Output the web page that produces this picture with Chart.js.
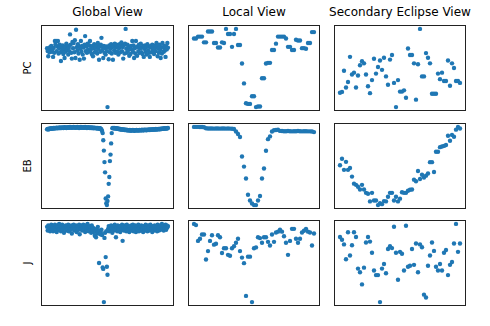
<!DOCTYPE html>
<html>
<head>
<meta charset="utf-8">
<script src="https://cdn.jsdelivr.net/npm/chart.js@4.4.1/dist/chart.umd.min.js"></script>
<style>
  body { margin: 0; background: #fff; width: 490px; height: 326px; position: relative; overflow: hidden; font-family: "DejaVu Sans", sans-serif; }
  canvas { position: absolute; }
  .title { position: absolute; font-size: 12px; line-height: 14px; text-align: center; white-space: nowrap; color: #000; }
  .ylab { position: absolute; font-size: 10px; line-height: 12px; text-align: center; white-space: nowrap; color: #000; transform: rotate(-90deg); }
</style>
</head>
<body>
<script>
// column and row names
const views = ['Global View', 'Local View', 'Secondary Eclipse View'];
const classes = ['PC', 'EB', 'J'];

// normalised flux per bin (median 0, deepest point -1 for global/local)
const globalPC = [
  0.02, -0.03, -0.12, 0.01, -0.05, 0.04, -0.02, 0.06, -0.04, 0.00,
  -0.13, 0.03, -0.06, 0.145, 0.09, 0.145, -0.03, 0.05, 0.145, -0.07,
  0.02, 0.08, -0.05, -0.20, 0.04, -0.02, 0.07, -0.08, 0.01, -0.15,
  0.05, -0.04, 0.10, -0.01, 0.06, -0.09, 0.03, -0.03, 0.26, 0.08,
  -0.06, -0.16, 0.13, 0.02, 0.11, -0.05, 0.16, -0.15, 0.34, 0.04,
  -0.02, 0.09, -0.07, 0.05, -0.18, 0.01, 0.145, -0.04, 0.06, -0.09,
  0.03, -0.16, 0.08, 0.23, -0.03, 0.05, -0.06, 0.10, 0.00, -0.04,
  0.07, 0.145, -0.02, 0.04, -0.08, 0.06, -0.12, 0.02, 0.09, -0.05,
  0.03, -0.03, 0.07, -0.07, 0.11, 0.01, -0.18, 0.05, -0.04, 0.08,
  0.20, -0.02, 0.04, -0.15, 0.06, -0.06, 0.02, -0.09, 0.05, -0.03,
  -1.00, 0.03, -0.17, 0.07, -0.05, 0.01, 0.09, -0.07, 0.04, -0.18,
  0.06, -0.02, 0.10, -0.06, 0.03, 0.08, -0.04, 0.05, -0.09, 0.02,
  0.09, -0.05, 0.06, 0.12, -0.03, 0.04, -0.16, 0.07, -0.07, 0.10,
  0.355, 0.01, -0.06, 0.08, -0.02, 0.05, -0.11, 0.03, -0.08, 0.06,
  0.00, 0.145, -0.04, 0.07, -0.15, 0.02, -0.07, 0.145, 0.04, -0.11,
  0.05, -0.03, 0.08, -0.06, 0.02, 0.10, -0.05, 0.03, -0.08, 0.06,
  -0.13, 0.01, 0.07, -0.04, 0.04, -0.09, 0.09, -0.02, 0.05, -0.06,
  -0.13, 0.03, 0.06, -0.05, 0.08, -0.02, 0.04, -0.08, 0.02, 0.07,
  -0.03, 0.11, 0.05, -0.12, 0.02, -0.06, 0.08, -0.01, -0.15, 0.04,
  -0.07, 0.11, 0.03, -0.04, 0.06, -0.02, -0.13, 0.05, 0.00, 0.11,
  0.03
];
const localPC = [
  0.07, 0.07, 0.10, 0.10, 0.10, 0.01, 0.01, 0.18, 0.18, 0.18,
  0.00, 0.00, -0.07, -0.07, 0.01, 0.00, 0.22, 0.14, 0.14, -0.06,
  0.14, 0.22, -0.03, -0.03, -0.32, -0.63, -0.94, -0.95, -0.95, -0.83,
  -0.83, -1.00, -0.99, -0.99, -0.55, -0.55, -0.32, -0.31, -0.31, -0.11,
  -0.11, -0.01, 0.10, 0.10, 0.10, 0.10, 0.07, -0.06, -0.06, -0.11,
  -0.11, 0.05, 0.04, 0.04, -0.08, -0.08, -0.09, 0.00, 0.00, 0.17,
  0.17
];
const secondaryPC = [
  -0.240, -0.228, 0.044, -0.172, -0.100, 0.224, -0.004, 0.020, -0.172, -0.016,
  0.116, 0.168, 0.140, -0.004, -0.156, -0.244, -0.076, 0.200, 0.008, 0.092,
  0.176, 0.056, 0.212, -0.028, -0.136, 0.188, 0.248, -0.112, -0.424, -0.076,
  -0.224, -0.224, -0.208, -0.304, 0.332, 0.248, 0.248, 0.140, -0.328, 0.128,
  0.584, -0.028, -0.028, 0.272, 0.212, 0.140, -0.252, -0.252, -0.252, 0.008,
  -0.064, 0.020, -0.088, -0.088, 0.176, -0.148, 0.140, 0.080, -0.088, -0.088,
  -0.112
];

const globalEB = [
  -0.008, -0.002, -0.010, 0.000, -0.004, 0.004, -0.002, 0.006, 0.000, 0.008,
  0.002, 0.010, 0.004, 0.012, 0.006, 0.010, 0.014, 0.006, 0.012, 0.008,
  0.016, 0.010, 0.014, 0.008, 0.018, 0.012, 0.016, 0.010, 0.014, 0.020,
  0.012, 0.016, 0.010, 0.018, 0.014, 0.020, 0.012, 0.016, 0.022, 0.014,
  0.018, 0.012, 0.020, 0.016, 0.024, 0.014, 0.018, 0.012, 0.020, 0.016,
  0.022, 0.014, 0.018, 0.010, 0.020, 0.016, 0.024, 0.012, 0.018, 0.014,
  0.020, 0.012, 0.016, 0.022, 0.014, 0.018, 0.010, 0.016, 0.020, 0.012,
  0.016, 0.010, 0.018, 0.014, 0.008, 0.016, 0.012, 0.006, 0.014, 0.010,
  0.012, 0.006, 0.010, 0.004, 0.012, 0.002, 0.008, 0.000, 0.006, -0.004,
  -0.010, -0.030,
  -0.057, -0.151, -0.286, -0.437, -0.571, -0.914, -0.976, -1.000, -0.947, -0.886,
  -0.722, -0.633, -0.424, -0.339, -0.192, -0.057, 0.008,
  0.010, 0.006, 0.012, 0.004, 0.008, 0.002, 0.006, 0.000, 0.004, -0.004,
  0.000, -0.008, -0.004, -0.010, -0.006, -0.012, -0.008, -0.014, -0.010, -0.016,
  -0.012, -0.018, -0.014, -0.020, -0.016, -0.022, -0.018, -0.024, -0.016, -0.020,
  -0.026, -0.018, -0.022, -0.016, -0.024, -0.020, -0.026, -0.018, -0.022, -0.016,
  -0.024, -0.020, -0.018, -0.024, -0.016, -0.022, -0.018, -0.020, -0.014, -0.022,
  -0.016, -0.020, -0.014, -0.018, -0.012, -0.020, -0.016, -0.012, -0.018, -0.014,
  -0.010, -0.016, -0.012, -0.008, -0.014, -0.010, -0.012, -0.006, -0.012, -0.008,
  -0.010, -0.004, -0.010, -0.006, -0.008, -0.002, -0.008, -0.004, -0.006, 0.000,
  -0.004, 0.002, -0.002, 0.004, 0.000, 0.006, 0.002, 0.004, 0.008, 0.004,
  0.006, 0.010
];
const localEB = [
  0.024, 0.024, 0.024, 0.022, 0.022, 0.020,
  0.006, 0.004, 0.004, 0.004, 0.002, 0.004, 0.004, 0.002, 0.004, 0.004, 0.002, 0.004, 0.002, 0.000, -0.004,
  -0.036, -0.068, -0.108, -0.364, -0.496, -0.652, -0.864, -0.940, -0.980, -1.000, -1.000,
  -0.940, -0.880, -0.652, -0.520, -0.288, -0.136, -0.100, -0.036, -0.020, -0.016, -0.014,
  -0.028, -0.030, -0.032, -0.032, -0.030, -0.032, -0.034, -0.032, -0.032, -0.030,
  -0.032, -0.034, -0.032, -0.032, -0.034, -0.034, -0.036, -0.044
];
const secondaryEB = [
  0.108, 0.192, 0.048, 0.152, 0.048, 0.072, -0.040, -0.132, -0.148, -0.172,
  -0.208, -0.148, -0.208, -0.252, -0.264, -0.364, -0.252, -0.352, -0.352, -0.412,
  -0.388, -0.400, -0.360, -0.364, -0.304, -0.252, -0.252, -0.352, -0.304, -0.364,
  -0.328, -0.244, -0.252, -0.252, -0.224, -0.212, -0.208, -0.080, -0.100, 0.032,
  -0.072, -0.016, -0.052, -0.028, 0.000, 0.148, 0.148, 0.020, 0.284, 0.284,
  0.344, 0.352, 0.360, 0.372, 0.492, 0.428, 0.504, 0.480, 0.572, 0.608,
  0.588
];

const globalJ = [
  0.02, -0.03, 0.04, -0.01, 0.03, -0.04, 0.01, 0.05, -0.02, 0.02,
  -0.04, 0.03, 0.00, 0.05, -0.03, 0.02, -0.05, 0.04, 0.01, -0.02,
  0.06, -0.01, 0.03, -0.04, 0.02, 0.05, -0.02, 0.01, -0.06, 0.03,
  0.00, 0.04, -0.03, 0.02, -0.01, 0.05, -0.04, 0.01, 0.03, -0.02,
  0.04, -0.07, 0.02, 0.00, 0.05, -0.03, 0.03, -0.01, 0.04, -0.05,
  0.01, 0.03, -0.02, 0.05, -0.08, 0.02, 0.00, 0.04, -0.03, 0.01,
  0.05, -0.02, 0.02, -0.05, 0.04, 0.00, -0.03, 0.06, 0.01, -0.04,
  0.03, -0.01, 0.02, -0.06, 0.04, -0.03, 0.01, -0.05, -0.02, -0.10,
  -0.04, -0.12, -0.01, -0.07, 0.02, -0.05, -0.47, -0.03, -0.08, -0.06,
  -0.02, -0.09, -0.53, -0.55, -1.00, -0.13, -0.06, -0.39, -0.04, -0.52,
  -0.63, -0.01, 0.03, -0.04, 0.02, -0.02, 0.04, 0.00, -0.06, 0.03,
  -0.03, 0.01, 0.05, -0.02, -0.12, 0.02, -0.04, 0.04, 0.00, -0.03,
  0.03, -0.05, 0.02, -0.01, 0.05, -0.17, 0.01, -0.03, 0.04, -0.02,
  0.02, -0.04, 0.05, 0.00, -0.03, 0.03, -0.05, 0.02, -0.01, 0.04,
  -0.03, 0.01, 0.05, -0.04, 0.02, -0.02, 0.04, -0.05, 0.00, 0.03,
  -0.02, 0.05, -0.04, 0.01, 0.03, -0.03, 0.04, -0.01, 0.02, -0.05,
  0.03, 0.00, -0.03, 0.05, -0.02, 0.02, -0.04, 0.04, 0.01, -0.03,
  0.02, 0.05, -0.02, 0.00, -0.05, 0.03, 0.01, -0.03, 0.04, 0.00,
  -0.02, 0.03, -0.04, 0.05, 0.01, -0.03, 0.02, 0.04, -0.02, 0.01,
  0.06, -0.01, 0.03, -0.03, 0.02, 0.00, 0.05, -0.02, 0.04, 0.01,
  0.03
];
const localJ = [
  0.234, 0.215, -0.034, 0.000, 0.068, 0.068, -0.327, -0.195, -0.034, 0.054,
  -0.093, -0.078, 0.054, 0.024, -0.224, -0.151, -0.151, -0.254, -0.268, -0.151,
  -0.117, -0.063, 0.000, -0.195, -0.298, -0.385, -0.902, -0.283, -0.283, -1.000,
  -0.151, -0.137, 0.024, 0.010, -0.063, 0.024, 0.024, -0.049, -0.107, 0.068,
  -0.049, 0.098, 0.112, 0.141, 0.112, 0.039, -0.063, -0.254, -0.034, 0.156,
  0.156, 0.000, -0.063, 0.000, 0.098, 0.127, 0.156, 0.112, 0.098, -0.107,
  0.083
];
const secondaryJ = [
  0.428, 0.392, 0.332, 0.140, 0.488, 0.188, 0.320, 0.488, 0.428, 0.020,
  -0.028, -0.184, 0.032, 0.356, 0.428, 0.368, 0.224, -0.004, -0.064, -0.064,
  -0.412, 0.020, 0.080, -0.040, 0.272, 0.308, 0.284, 0.560, 0.224, -0.124,
  0.236, 0.212, -0.004, 0.572, 0.044, 0.056, 0.272, 0.068, 0.344, -0.028,
  0.332, 0.296, -0.316, -0.352, 0.056, 0.188, 0.356, 0.248, 0.044, -0.004,
  0.080, -0.004, 0.224, 0.260, -0.064, 0.068, 0.104, 0.344, 0.596, 0.236,
  0.344
];

const grid = [
  [globalPC, localPC, secondaryPC],
  [globalEB, localEB, secondaryEB],
  [globalJ, localJ, secondaryJ]
];

const colLeft = [37, 184, 330];
const colWidth = [141, 140, 140];
const rowTop = [21, 119, 216];
const rowHeight = 94;
const dotColor = '#1f77b4';

const framePlugin = {
  id: 'frame',
  afterDraw(chart) {
    const { ctx, chartArea: a } = chart;
    ctx.save();
    ctx.strokeStyle = '#222';
    ctx.lineWidth = 1;
    ctx.strokeRect(a.left + 0.5, a.top + 0.5, a.right - a.left - 1, a.bottom - a.top - 1);
    ctx.restore();
  }
};

function addPanel(values, left, top, width, height) {
  const canvas = document.createElement('canvas');
  canvas.width = width;
  canvas.height = height;
  canvas.style.left = left + 'px';
  canvas.style.top = top + 'px';
  document.body.appendChild(canvas);

  const n = values.length - 1;
  const lo = Math.min(...values), hi = Math.max(...values);
  const pad = (hi - lo) * 0.05;

  new Chart(canvas, {
    type: 'scatter',
    data: {
      datasets: [{
        data: values.map((v, i) => ({ x: i, y: v })),
        backgroundColor: dotColor,
        borderWidth: 0,
        pointRadius: 2.2
      }]
    },
    options: {
      responsive: false,
      animation: false,
      layout: { padding: 0 },
      plugins: { legend: { display: false }, tooltip: { enabled: false } },
      scales: {
        x: { type: 'linear', display: false, min: -0.05 * n, max: 1.05 * n },
        y: { display: false, min: lo - pad, max: hi + pad }
      }
    },
    plugins: [framePlugin]
  });
}

grid.forEach((row, r) => {
  row.forEach((values, c) => addPanel(values, colLeft[c], rowTop[r], colWidth[c], rowHeight));
});

views.forEach((name, c) => {
  const d = document.createElement('div');
  d.className = 'title';
  d.textContent = name;
  d.style.left = (colLeft[c] + colWidth[c] / 2 - 100) + 'px';
  d.style.width = '200px';
  d.style.top = '5px';
  document.body.appendChild(d);
});

classes.forEach((name, r) => {
  const d = document.createElement('div');
  d.className = 'ylab';
  d.textContent = name;
  d.style.width = '40px';
  d.style.left = (27.5 - 20) + 'px';
  d.style.top = (rowTop[r] + rowHeight / 2 - 6) + 'px';
  document.body.appendChild(d);
});
</script>
</body>
</html>
